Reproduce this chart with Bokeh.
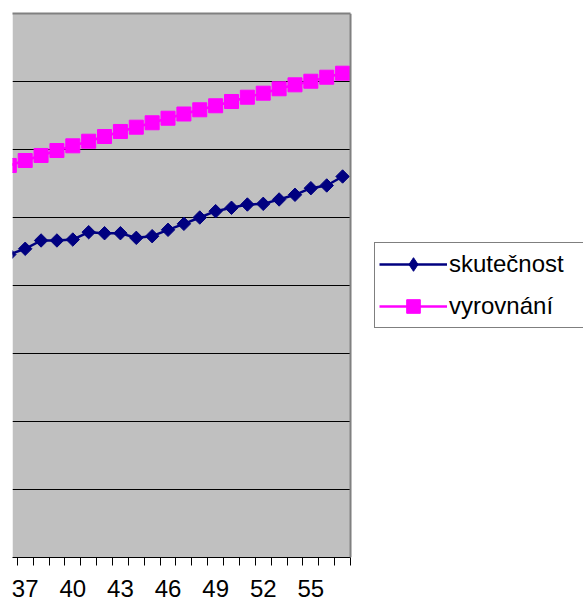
import math
from bokeh.plotting import figure
from bokeh.models import (Range1d, FixedTicker, LinearAxis, Legend, LegendItem, Grid,
                          BoxAnnotation, Span)
from bokeh.embed import file_html
from bokeh.resources import INLINE

# ---- data ----
obdobi = list(range(36, 58))
skutecnost = [445.6, 454.0, 466.2, 466.2, 467.6, 478.4, 476.9, 476.9, 470.1, 472.5, 481.9,
              490.7, 500.0, 509.3, 514.3, 519.1, 520.1, 526.5, 533.4, 543.1, 547.1, 560.3]
vyrovnani = [576.5, 583.8, 591.2, 598.5, 605.4, 612.2, 619.1, 626.5, 632.8, 639.3, 646.0,
             652.2, 658.4, 664.3, 670.6, 676.9, 682.8, 689.3, 695.1, 700.4, 706.3, 712.2]
x_tick_labels = [37, 40, 43, 46, 49, 52, 55]
category_bounds = [k + 0.5 for k in range(36, 58)]
y_grid_values = [0, 100, 200, 300, 400, 500, 600, 700, 800]
series_names = ["skutečnost", "vyrovnání"]

FONT = "Liberation Sans"
NAVY = "#000080"
MAGENTA = "#FF00FF"
X_START, X_END = 36.2, 57.5          # visible part of the plot area (categories)
X_VIEW_END = 72.18                   # frame continues under the legend area

p = figure(width=583, height=603,
           x_range=Range1d(X_START, X_VIEW_END), y_range=Range1d(0, 800),
           output_backend="svg", toolbar_location=None,
           y_axis_location=None,
           min_border_left=12, min_border_top=13, min_border_right=0, min_border_bottom=46,
           background_fill_color="white", border_fill_color="white",
           outline_line_color=None)

for g in p.grid:
    g.visible = False

# grey plot area
p.add_layout(BoxAnnotation(right=X_END, fill_color="#C0C0C0", fill_alpha=1,
                           line_color=None, level="image"))

ygrid = Grid(dimension=1, ticker=FixedTicker(ticks=y_grid_values),
             grid_line_color="black", grid_line_width=1)
has_cross = "cross_bounds" in Grid.properties()
if has_cross:
    ygrid.cross_bounds = (X_START, X_END)
p.add_layout(ygrid, "center")
if not has_cross:
    p.add_layout(BoxAnnotation(left=X_END, fill_color="white", fill_alpha=1,
                               line_color=None, level="underlay"))

ax = p.xaxis[0]
ax.bounds = (X_START, X_END)
ax.ticker = FixedTicker(ticks=x_tick_labels, minor_ticks=category_bounds)
ax.axis_line_color = "black"
ax.axis_line_width = 1
ax.major_tick_line_color = None
ax.major_tick_in = 0
ax.major_tick_out = 8
ax.minor_tick_in = 0
ax.minor_tick_out = 8
ax.minor_tick_line_color = "black"
ax.major_label_text_font = FONT
ax.major_label_text_font_size = "24px"
ax.major_label_text_color = "black"
ax.major_label_standoff = 14

top = LinearAxis(ticker=FixedTicker(ticks=[]), bounds=(X_START, X_END),
                 axis_line_color="#808080", axis_line_width=2,
                 major_tick_line_color=None, minor_tick_line_color=None,
                 major_tick_out=0, major_tick_in=0, minor_tick_out=0, minor_tick_in=0,
                 major_label_standoff=0, major_label_text_font_size="0px")
p.add_layout(top, "above")
p.add_layout(Span(location=X_END, dimension="height", line_color="#808080", line_width=2))

l1 = p.line(obdobi, skutecnost, line_color=NAVY, line_width=2.5)
s1 = p.scatter(obdobi, skutecnost, marker="square", angle=math.pi / 4, size=9.5,
               fill_color=NAVY, line_color=NAVY)
l2 = p.line(obdobi, vyrovnani, line_color=MAGENTA, line_width=2.5)
s2 = p.scatter(obdobi, vyrovnani, marker="square", size=14,
               fill_color=MAGENTA, line_color=MAGENTA)

# legend proxy: the legend draws markers without rotation, so use a diamond marker
k1 = p.scatter([float("nan")], [float("nan")], marker="diamond", size=14,
               fill_color=NAVY, line_color=NAVY)

legend = Legend(items=[LegendItem(label=series_names[0], renderers=[l1, k1]),
                       LegendItem(label=series_names[1], renderers=[l2, s2])],
                location=(362, 229),
                border_line_color="black", border_line_width=1,
                background_fill_color="white", background_fill_alpha=1,
                padding=4, spacing=8, margin=0,
                glyph_width=68, glyph_height=34, label_standoff=2, label_width=130,
                label_text_font=FONT, label_text_font_size="24px", label_text_color="black")
p.add_layout(legend, "center")

open("out.html", "w").write(file_html(p, INLINE))
